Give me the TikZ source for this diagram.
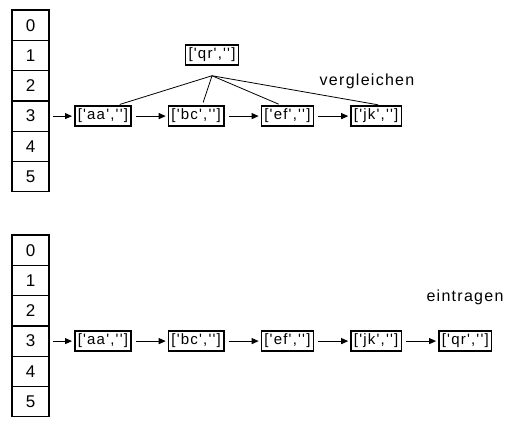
\documentclass[tikz,border=0pt]{standalone}
\usepackage{fontspec}
\newfontfamily\diafont[LetterSpace=8]{Liberation Sans}
\newfontfamily\wordfont[LetterSpace=8]{Liberation Sans}
\usepackage{tikz}
\usetikzlibrary{arrows.meta,positioning,calc}

\begin{document}
\begin{tikzpicture}[
    x=1pt, y=1pt,
    node distance=36pt,
    >={Triangle[length=7pt,width=6pt]},
    every node/.style={font=\diafont\fontsize{15}{17}\selectfont},
    cellnode/.style={rectangle, draw, line width=1.2pt, minimum width=37pt, minimum height=30.3pt, inner sep=0pt, outer sep=0pt, font=\diafont\fontsize{17}{19}\selectfont},
    keynode/.style={rectangle, draw, line width=1.5pt, inner xsep=3pt, inner ysep=1.5pt, minimum height=20pt},
    wordnode/.style={font=\wordfont\fontsize{16}{18}\selectfont},
    link/.style={->, line width=1pt, shorten <=4pt, shorten >=2pt},
    cmpline/.style={line width=0.8pt, shorten >=3pt}
]
    \useasboundingbox (0,0) rectangle (525,434);

    % upper table: search
    \node (t0) [cellnode] at (30.5,408.8) {0};
    \foreach \i [count=\j from 0] in {1,...,5}
        \node (t\i) [cellnode, below=0pt of t\j] {\i};

    \node (aa) [keynode, right=25pt of t3] {['aa','']};
    \node (bc) [keynode, right=of aa] {['bc','']};
    \node (ef) [keynode, right=of bc] {['ef','']};
    \node (jk) [keynode, right=of ef] {['jk','']};
    \node (qr) [keynode] at (212,379) {['qr','']};
    \coordinate (fan) at ([yshift=-10pt]qr.south);
    \node (cmp) [wordnode] at (367,353) {vergleichen};

    \draw[link] (t3) -- (aa);
    \draw[link] (aa) -- (bc);
    \draw[link] (bc) -- (ef);
    \draw[link] (ef) -- (jk);
    \draw[cmpline] (fan) -- ([xshift=14pt]aa.north);
    \draw[cmpline] (fan) -- ([xshift=6pt]bc.north);
    \draw[cmpline] (fan) -- ([xshift=-6pt]ef.north);
    \draw[cmpline] (fan) -- ([xshift=5pt]jk.north);

    % lower table: insert
    \node (b0) [cellnode] at (30.5,183.8) {0};
    \foreach \i [count=\j from 0] in {1,...,5}
        \node (b\i) [cellnode, below=0pt of b\j] {\i};

    \node (aa2) [keynode, right=25pt of b3] {['aa','']};
    \node (bc2) [keynode, right=of aa2] {['bc','']};
    \node (ef2) [keynode, right=of bc2] {['ef','']};
    \node (jk2) [keynode, right=of ef2] {['jk','']};
    \node (qr2) [keynode, right=of jk2] {['qr','']};
    \node (ins) [wordnode] at (465,137) {eintragen};

    \draw[link] (b3) -- (aa2);
    \draw[link] (aa2) -- (bc2);
    \draw[link] (bc2) -- (ef2);
    \draw[link] (ef2) -- (jk2);
    \draw[link] (jk2) -- (qr2);

\end{tikzpicture}
\end{document}
